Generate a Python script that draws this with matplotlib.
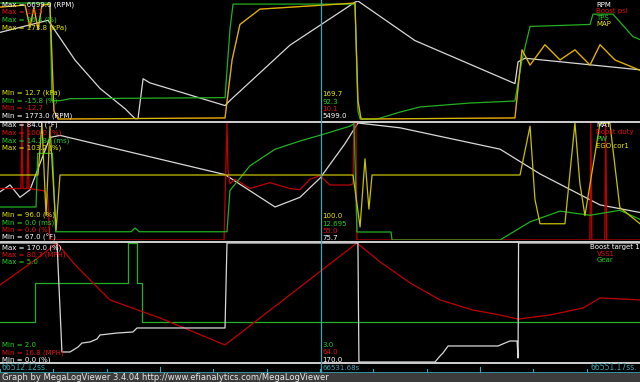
import matplotlib
matplotlib.use("Agg")
import matplotlib.pyplot as plt
import numpy as np

W, H = 640, 382
T0, T1 = 66512.12, 66551.17
SPAN = T1 - T0
CURSOR = 66531.68

# ---------------- Panel 1 data (time offsets in s) ----------------
rpm_t = [0.00, 2.93, 4.58, 6.10, 7.63, 8.24, 8.42, 8.73, 9.15, 13.73, 14.03, 17.69, 21.66, 21.84, 25.32, 31.42, 31.61, 32.03, 39.05]
rpm_v = [5400, 5900, 4250, 3080, 2240, 1830, 1830, 3480, 3310, 2370, 2580, 4870, 6650, 6699, 5060, 3280, 4180, 4330, 3850]

map_t = [0.00, 1.53, 1.83, 2.07, 2.32, 2.56, 3.05, 3.29, 3.54, 13.73, 14.16, 14.64, 15.86, 21.66, 21.84, 22.03, 31.42, 31.85, 32.34, 33.25, 34.17, 35.08, 36.00, 36.61, 37.52, 39.05]
map_v = [165.5, 168.3, 138, 165.5, 135, 168, 169.7, 25, 14, 15.5, 94, 142, 162.8, 171, 39, 14, 15.5, 107.7, 87, 114.6, 94, 107.7, 87, 114.6, 94, 80]

boost_t = map_t
boost_v = [9.5, 9.9, 5.5, 9.5, 5.1, 9.9, 10.1, -10.9, -12.5, -12.3, -0.9, 6.1, 9.1, 10.3, -8.9, -12.5, -12.3, 1.1, -1.9, 2.1, -0.9, 1.1, -1.9, 2.1, -0.9, -2.9]

tps_t = [0.00, 3.05, 3.17, 3.66, 4.27, 13.73, 14.03, 14.22, 21.66, 21.84, 21.97, 23.00, 24.41, 25.63, 28.68, 31.42, 31.85, 32.34, 36.00, 36.18, 37.40, 38.62, 39.05]
tps_v = [94.5, 94.5, 2.4, 2.4, 4.3, 5.3, 69.6, 93.5, 93.5, -7.2, -14.9, -14.9, -8.3, -3.5, 0.2, 2.1, 40.8, 72.4, 74.3, 84, 84, 62.8, 60]

# ---------------- Panel 2 data ----------------
mat_t = [0.00, 0.61, 1.22, 1.83, 3.05, 3.66, 13.73, 16.78, 18.30, 19.53, 21.05, 21.84, 24.41, 30.51, 32.95, 36.61, 39.05]
mat_v = [74.0, 75.0, 73.2, 74.3, 81.9, 82.2, 76.5, 71.8, 73.2, 76.0, 81.0, 84.0, 83.3, 80.2, 76.6, 72.1, 71.0]

duty_t = [0.00, 1.28, 1.34, 1.40, 1.65, 1.71, 1.77, 2.70, 2.90, 3.05, 13.67, 13.85, 13.91, 14.03, 14.34, 15.25, 16.47, 17.69, 18.30, 18.91, 19.53, 20.13, 21.35, 21.54, 21.60, 21.72, 21.78, 35.99, 36.05, 36.11, 36.90, 36.96, 37.02, 39.05]
duty_v = [44, 44, 100, 44, 44, 100, 44, 42, 38, 0, 0, 100, 60, 48, 52, 44, 49, 44, 43, 52, 55, 47, 47, 48, 100, 100, 0, 0, 100, 0, 0, 100, 0, 0]

pw_t = [0.00, 2.20, 2.30, 3.20, 3.40, 8.00, 8.24, 8.50, 13.85, 14.03, 15.25, 16.78, 18.30, 19.53, 21.35, 21.60, 21.78, 23.86, 23.92, 30.51, 32.34, 34.17, 36.00, 37.82, 39.05]
pw_v = [4.0, 4.0, 10.5, 10.5, 1.0, 1.0, 1.45, 1.0, 1.0, 6.0, 9.0, 11.0, 12.0, 12.7, 13.8, 14.1, 0.97, 0.97, 0.0, 0.0, 2.2, 3.5, 3.0, 3.6, 2.5]

ego_t = [0.00, 2.32, 2.56, 2.81, 3.05, 3.42, 3.66, 21.54, 21.97, 22.27, 22.51, 22.70, 31.73, 32.34, 32.64, 32.95, 34.47, 35.08, 35.38, 35.69, 36.61, 37.21, 37.82, 39.05]
ego_v = [100.0, 100.0, 103.2, 97.5, 103.0, 96.6, 100.0, 100.0, 96.8, 101.0, 97.9, 100.0, 100.0, 103.0, 98.5, 97.0, 97.0, 103.2, 99.5, 97.5, 103.2, 103.2, 98.0, 97.0]

# ---------------- Panel 3 data ----------------
bt_t = [0.00, 3.48, 3.78, 4.27, 4.76, 5.00, 5.49, 5.92, 6.10, 7.14, 8.11, 8.36, 13.73, 13.85, 21.84, 21.90, 26.54, 26.85, 27.03, 27.34, 30.39, 30.81, 31.12, 31.55, 31.61, 31.64, 39.05]
bt_v = [170, 170, 14.3, 14.3, 21.4, 27.1, 28.6, 32.9, 38.6, 41.4, 42.9, 48.6, 48.6, 170, 170, 0, 0, 8.6, 12.9, 22.9, 22.9, 27.1, 30.0, 30.0, 5.7, 170, 170]

vss_t = [0.00, 2.14, 3.48, 4.58, 6.71, 9.76, 13.73, 21.78, 23.19, 25.02, 26.85, 28.86, 30.51, 31.61, 33.56, 35.57, 36.61, 39.05]
vss_v = [57.9, 71.2, 80.3, 68.6, 49.9, 40.3, 25.9, 80.3, 70.2, 59.0, 49.9, 44.5, 41.9, 39.7, 41.9, 45.6, 51.0, 49.9]

gear_t = [0.00, 2.14, 2.14, 7.81, 7.81, 8.36, 8.36, 8.66, 8.66, 39.05]
gear_v = [3, 3, 4, 4, 5, 5, 4, 4, 3, 3]

# ---------------- Labels ----------------
p1_max = ["Max = 6699.0 (RPM)", "Max = 10.7", "Max = 96.4 (%)", "Max = 173.8 (kPa)"]
p1_min = ["Min = 12.7 (kPa)", "Min = -15.8 (%)", "Min = -12.7", "Min = 1773.0 (RPM)"]
p1_cur = ["169.7", "92.3", "10.1", "5499.0"]
p1_leg = ["RPM", "Boost psi", "TPS", "MAP"]

p2_max = ["Max = 84.0 (\u00b0F)", "Max = 100.0 (%)", "Max = 14.184 (ms)", "Max = 103.2 (%)"]
p2_min = ["Min = 96.0 (%)", "Min = 0.0 (ms)", "Min = 0.0 (%)", "Min = 67.0 (\u00b0F)"]
p2_cur = ["100.0", "12.695", "55.0", "75.7"]
p2_leg = ["MAT", "Boost duty", "PW", "EGO cor1"]

p3_max = ["Max = 170.0 (%)", "Max = 80.3 (MPH)", "Max = 5.0"]
p3_min = ["Min = 2.0", "Min = 16.8 (MPH)", "Min = 0.0 (%)"]
p3_cur = ["3.0", "64.0", "170.0"]
p3_leg = ["Boost target 1", "VSS1", "Gear"]

time_left, time_cur, time_right = "66512.12ss.", "66531.68s", "66551.17ss."
footer = "Graph by MegaLogViewer 3.4.04 http://www.efianalytics.com/MegaLogViewer"

# ---------------- Colours ----------------
C_W, C_R, C_G, C_Y = "#d8d8d8", "#c00000", "#22b022", "#c8c000"
T_W, T_R, T_G, T_Y = "#ffffff", "#e01010", "#20d020", "#e8e800"
TEAL = "#3aa6b8"

fig = plt.figure(figsize=(W / 100, H / 100), dpi=100, facecolor="black")

def rect(top, bottom):
    return [0, 1 - bottom / H, 1, (bottom - top) / H]

def series(top, bottom, t, v, vmin, vmax, color, z=2):
    ax = fig.add_axes(rect(top, bottom), facecolor="none")
    ax.plot(np.array(t) + T0, v, color=color, lw=0.9, zorder=z)
    ax.set_xlim(T0, T1)
    ax.set_ylim(vmin, vmax)
    ax.axis("off")
    return ax

bg = fig.add_axes([0, 0, 1, 1], facecolor="black")
bg.set_xlim(0, W)
bg.set_ylim(H, 0)
bg.axis("off")

P1 = (1, 120)
P2 = (123, 240)
P3 = (243, 362)

series(*P1, boost_t, boost_v, -12.7, 10.7, C_R)
series(*P1, rpm_t, rpm_v, 1773, 6699, C_W)
series(*P1, tps_t, tps_v, -15.8, 96.4, C_G)
series(*P1, map_t, map_v, 12.7, 173.8, C_Y)

series(*P2, mat_t, mat_v, 67, 84, C_W)
series(*P2, duty_t, duty_v, 0, 100, C_R)
series(*P2, pw_t, pw_v, 0, 14.184, C_G)
series(*P2, ego_t, ego_v, 96, 103.2, C_Y)

series(*P3, gear_t, gear_v, 2, 5, C_G)
series(*P3, vss_t, vss_v, 16.8, 80.3, C_R)
series(*P3, bt_t, bt_v, 0, 170, C_W)

ov = fig.add_axes([0, 0, 1, 1], facecolor="none")
ov.set_xlim(0, W)
ov.set_ylim(H, 0)
ov.axis("off")

for y in (121.5, 241.5, 363):
    ov.plot([0, W], [y, y], color="#d0d0d0", lw=1.4)

ov.add_patch(plt.Rectangle((0, 372.5), W, 10, color="#3c3c3c", zorder=1))
ov.text(2, 377.5, footer, color="#e8e8e8", fontsize=6, va="center", ha="left")

xc = (CURSOR - T0) / SPAN * W
ov.plot([xc, xc], [0, 372], color=TEAL, lw=0.9, zorder=5)
step = SPAN / 12
for i in range(13):
    tx = (i * step) / SPAN * W
    h = 5 if i in (3, 9) else 3
    ov.plot([tx, tx], [372, 372 - h], color=TEAL, lw=0.8)
ov.plot([0, W], [372, 372], color=TEAL, lw=0.6)
fs = 5
ov.text(2, 367.5, time_left, color=TEAL, fontsize=5.5, va="center", ha="left")
ov.text(xc + 2, 367.5, time_cur, color=TEAL, fontsize=fs, va="center", ha="left")
ov.text(637, 367.5, time_right, color=TEAL, fontsize=5.5, va="center", ha="right")

def block(x, ys, texts, colors, ha="left"):
    for y, s, c in zip(ys, texts, colors):
        ov.text(x, y, s, color=c, fontsize=fs, va="center", ha=ha, zorder=6)

c4a = [T_W, T_R, T_G, T_Y]
c4b = [T_Y, T_G, T_R, T_W]
block(2, [5, 12.5, 20, 27.5], p1_max, c4a)
block(2, [93, 100.5, 108, 115.5], p1_min, c4b)
block(xc + 2, [94, 101.5, 109, 116.5], p1_cur, c4b)
block(596, [5, 11.5, 18, 24.5], p1_leg, c4a)

block(2, [125.5, 133, 140.5, 148], p2_max, c4a)
block(2, [215, 222.5, 230, 237], p2_min, c4b)
block(xc + 2, [216, 223.5, 231, 237.5], p2_cur, c4b)
block(596, [125, 132, 139, 146], p2_leg, c4a)

c3a = [T_W, T_R, T_G]
c3b = [T_G, T_R, T_W]
block(2, [247.5, 254.5, 261.5], p3_max, c3a)
block(2, [345, 352.5, 359.5], p3_min, c3b)
block(xc + 2, [345, 352.5, 359.5], p3_cur, c3b)
block(590, [246.5], p3_leg[:1], [T_W])
block(597, [253.5, 260.5], p3_leg[1:], [T_R, T_G])

fig.savefig("out.png", dpi=100, facecolor="black")
